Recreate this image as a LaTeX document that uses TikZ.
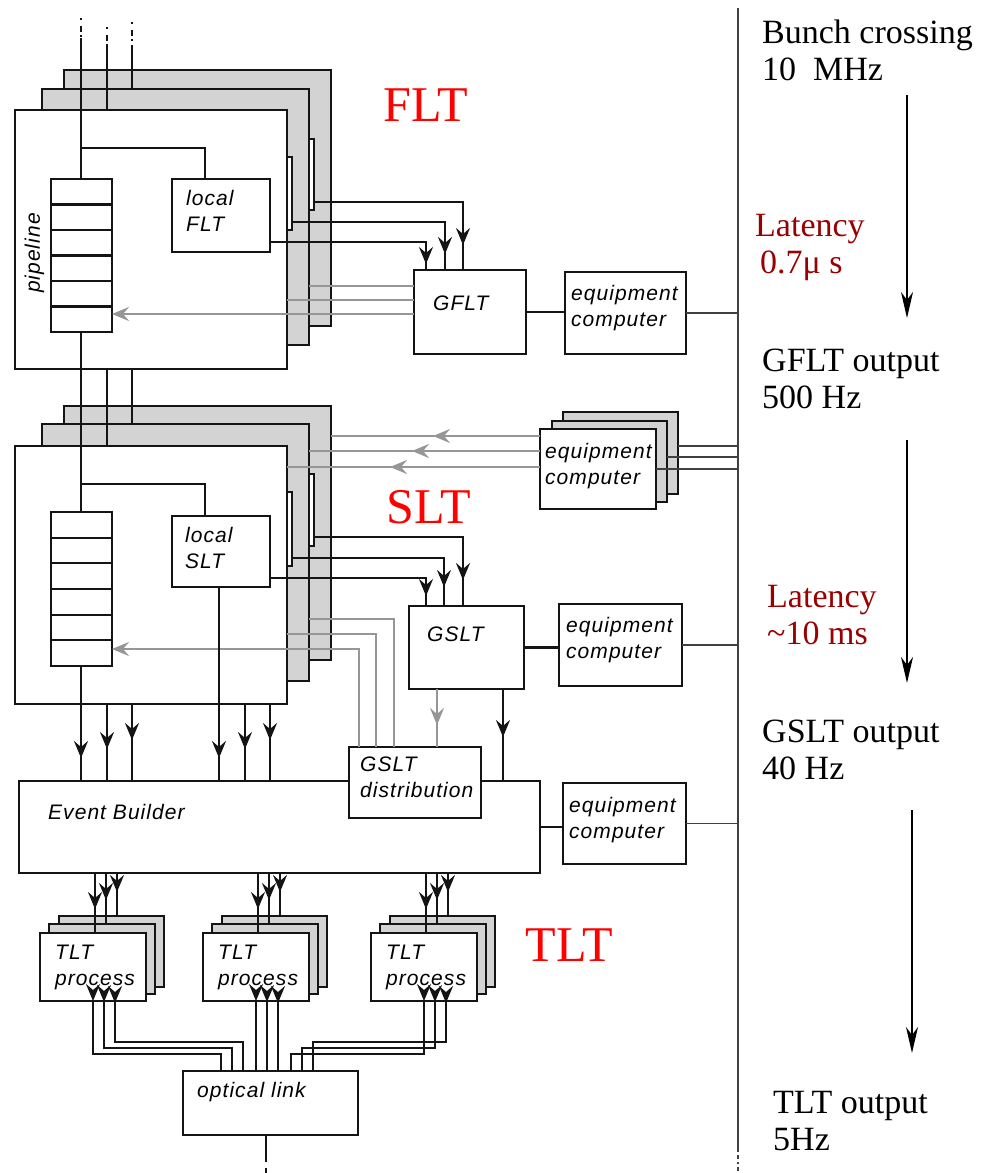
\documentclass[tikz,border=0pt]{standalone}
\usepackage{fontspec}
\setmainfont{Liberation Serif}
\newfontfamily\boxfont{Liberation Sans}[LetterSpace=5]
\usepackage{xcolor}
\usepackage{tikz}
\usetikzlibrary{positioning,calc,arrows.meta,decorations.markings}

\definecolor{shade}{RGB}{211,211,211}
\definecolor{sigcol}{RGB}{150,150,150}
\definecolor{latred}{RGB}{153,0,0}
\definecolor{edge}{RGB}{20,20,20}

\tikzset{dart/.tip={Stealth[length=17pt,width=14pt,inset=6pt]}}

\begin{document}
\begin{tikzpicture}[
    x=1pt, y=-1pt,
    module/.style={draw=edge, line width=2.2pt, fill=white, anchor=north west, inner sep=0pt, outer sep=0pt},
    back/.style={module, fill=shade},
    wire/.style={color=edge, line width=2.2pt},
    stub/.style={wire, dash pattern=on 2pt off 6pt on 6pt off 3pt},
    sig/.style={color=sigcol, line width=2.1pt},
    tline/.style={color=black!75, line width=1.9pt},
    flow/.style={draw=black, line width=1.6pt, -{Stealth[length=26pt,width=12pt,inset=8pt]}},
    tipat/.style={postaction={decorate}, decoration={markings, mark=at position #1 with {\arrow{dart}}}},
    lbl/.style={anchor=north west, inner sep=0pt, align=left, font=\boxfont\itshape\fontsize{21}{26}\selectfont},
    rate/.style={anchor=north west, inner sep=0pt, align=left, font=\fontsize{34}{37}\selectfont},
    level/.style={text=red, inner sep=0pt, font=\fontsize{50}{50}\selectfont}
]
\fill[white] (0,0) rectangle (987,1173);
\useasboundingbox (0,0) rectangle (987,1173);

% Nodes: FLT modules
\node[back, minimum width=267pt, minimum height=256pt] (fltC) at (64,70) {};
\node[back, minimum width=267pt, minimum height=256pt] (fltB) at (42,89) {};
\node[module, minimum width=272pt, minimum height=259pt] (fltA) at (15,110) {};
\node[module, minimum width=5pt, minimum height=71pt] (fltCt) at (309,139) {};
\node[module, minimum width=5pt, minimum height=73pt] (fltBt) at (287,157) {};
\node[module, minimum width=61pt, minimum height=153pt] (fltP) at (51,179) {};
\node[module, minimum width=98pt, minimum height=73pt] (lfl) at (172,179) {};
\node[module, minimum width=112pt, minimum height=84pt] (gflt) at (414,270) {};
\node[module, minimum width=121pt, minimum height=82pt] (eqA) at (565,272) {};

% Nodes: SLT modules
\node[back, minimum width=267pt, minimum height=254pt] (sltC) at (64,406) {};
\node[back, minimum width=267pt, minimum height=257pt] (sltB) at (42,424) {};
\node[module, minimum width=272pt, minimum height=258pt] (sltA) at (15,446) {};
\node[module, minimum width=5pt, minimum height=72pt] (sltCt) at (309,474) {};
\node[module, minimum width=5pt, minimum height=74pt] (sltBt) at (287,492) {};
\node[module, minimum width=61pt, minimum height=154pt] (sltP) at (51,512) {};
\node[module, minimum width=98pt, minimum height=71pt] (lsl) at (172,516) {};
\node[module, minimum width=115pt, minimum height=83pt] (gslt) at (409,606) {};
\node[module, minimum width=123pt, minimum height=82pt] (eqB) at (559,604) {};
\node[back, minimum width=115pt, minimum height=82pt] (eqCc) at (563,412) {};
\node[back, minimum width=115pt, minimum height=81pt] (eqCb) at (552,421) {};
\node[module, minimum width=116pt, minimum height=80pt] (eqCa) at (540,429) {};

% Nodes: event builder and TLT
\node[module, minimum width=521pt, minimum height=92pt] (eb) at (19,781) {};
\node[module, minimum width=132pt, minimum height=71pt] (gsd) at (349,747) {};
\node[module, minimum width=123pt, minimum height=81pt] (eqD) at (563,783) {};
\foreach \g/\x in {1/40, 2/203, 3/371} {
    \node[back, minimum width=105pt, minimum height=71pt] (tltC\g) at (\x+19,916) {};
    \node[back, minimum width=106pt, minimum height=70pt] (tltB\g) at (\x+9,924) {};
    \node[module, minimum width=106pt, minimum height=68pt] (tltA\g) at (\x,933) {};
    \node[lbl] (tltT\g) at ([shift={(15,12)}]tltA\g.north west) {TLT\\process};
}
\node[module, minimum width=175pt, minimum height=64pt] (ol) at (183,1071) {};

% pipeline cells
\foreach \k in {1,...,5} {
    \draw[wire] ($(fltP.north west)!\k/6!(fltP.south west)$) -- ($(fltP.north east)!\k/6!(fltP.south east)$);
    \draw[wire] ($(sltP.north west)!\k/6!(sltP.south west)$) -- ($(sltP.north east)!\k/6!(sltP.south east)$);
}

% Coordinates
\coordinate (inA0) at (81,18); \coordinate (inA) at (81,38);
\coordinate (inB0) at (107,27); \coordinate (inB) at (107,45);
\coordinate (inC0) at (132,22); \coordinate (inC) at (132,45);
\coordinate (cE) at (245,0); \coordinate (cF) at (270,0);
\coordinate (ttop) at (738,8); \coordinate (tbot) at (738,1150); \coordinate (tend) at (738,1173);

% Paths: FLT
\draw[stub] (inA0) -- (inA); \draw[stub] (inB0) -- (inB); \draw[stub] (inC0) -- (inC);
\draw[wire] (inA) -- (fltP.north -| inA);
\draw[wire] (inB) -- (fltA.north -| inB);
\draw[wire] (inC) -- (fltB.north -| inC);
\draw[wire] ([xshift=-16pt]lfl.north) -- ++(0,-31) -| (fltP.north -| inA);
\draw[wire, tipat=-6pt] ([yshift=10pt]lfl.south east) -| ([xshift=-44pt]gflt.north);
\draw[wire, tipat=-16pt] ([yshift=8pt]fltBt.south east) -| ([xshift=-25pt]gflt.north);
\draw[wire, tipat=-25pt] ([yshift=8pt]fltCt.south east) -| ([xshift=-7pt]gflt.north);
\coordinate (gA) at ([yshift=-2pt]gflt.west);
\coordinate (gB) at ([yshift=12pt]gflt.west);
\coordinate (gC) at ([yshift=26pt]gflt.west);
\draw[sig, -dart] (gA) -- (gA -| fltP.east);
\draw[sig] (gB) -- (gB -| fltA.east);
\draw[sig] (gC) -- (gC -| fltB.east);
\draw[wire] (gflt.east) -- (gflt.east -| eqA.west);
\draw[tline] (eqA.east) -- (eqA.east -| ttop);

% Paths: FLT to SLT
\draw[wire] (fltP.south -| inA) -- (sltP.north -| inA);
\draw[wire] (fltA.south -| inB) -- (sltA.north -| inB);
\draw[wire] (fltA.south -| inC) -- (sltB.north -| inC);

% Paths: SLT
\draw[wire] ([xshift=-16pt]lsl.north) -- ++(0,-32) -| (sltP.north -| inA);
\draw[wire, tipat=-10pt] ([yshift=9pt]lsl.south east) -| ([xshift=-40.5pt]gslt.north);
\draw[wire, tipat=-19pt] ([yshift=8pt]sltBt.south east) -| ([xshift=-22.5pt]gslt.north);
\draw[wire, tipat=-26pt] ([yshift=9pt]sltCt.south east) -| ([xshift=-3.5pt]gslt.north);
\coordinate (eA) at ([yshift=33pt]eqCa.west);
\coordinate (eB) at ([yshift=18pt]eqCa.west);
\coordinate (eC) at ([yshift=2pt]eqCa.west);
\draw[sig, tipat=107pt] (eA) -- (eA -| sltC.east);
\draw[sig, tipat=128pt] (eB) -- (eB -| sltB.east);
\draw[sig, tipat=150pt] (eC) -- (eC -| sltA.east);
\coordinate (tA) at ([yshift=7pt]eqCc.east);
\coordinate (tB) at ([yshift=4.5pt]eqCb.east);
\draw[tline] (tA) -- (tA -| ttop);
\draw[tline] (tB) -- (tB -| ttop);
\draw[tline] (eqCa.east) -- (eqCa.east -| ttop);
\draw[wire] (gslt.east) -- (gslt.east -| eqB.west);
\draw[tline] (eqB.east) -- (eqB.east -| ttop);
\draw[sig, -dart] ([xshift=-56pt]gsd.north) |- ([yshift=-60pt]sltP.east);
\draw[sig] ([xshift=-39pt]gsd.north) |- ([yshift=-59pt]sltA.east);
\draw[sig] ([xshift=-21pt]gsd.north) |- ([yshift=-66.5pt]sltB.east);
\coordinate (dA) at ([xshift=-29.5pt]gslt.south);
\coordinate (dB) at ([xshift=36.5pt]gslt.south);
\draw[sig, tipat=-22pt] (dA) -- (dA |- gsd.north);
\draw[wire, tipat=-44pt] (dB) -- (dB |- eb.north);

% Paths: SLT to event builder
\coordinate (oD) at ([xshift=-2pt]lsl.south);
\draw[wire, tipat=-23pt] (sltP.south -| inA) -- (eb.north -| inA);
\draw[wire, tipat=-32pt] (sltA.south -| inB) -- (eb.north -| inB);
\draw[wire, tipat=-41pt] (sltA.south -| inC) -- (eb.north -| inC);
\draw[wire, tipat=-23pt] (oD) -- (oD |- eb.north);
\draw[wire, tipat=-32pt] (sltA.south -| cE) -- (eb.north -| cE);
\draw[wire, tipat=-41pt] (sltA.south -| cF) -- (eb.north -| cF);
\draw[wire] (eb.east) -- (eb.east -| eqD.west);
\draw[tline] (eqD.east) -- (eqD.east -| ttop);

% Paths: TLT
\foreach \g in {1,2,3}
    \foreach \k/\b in {0/A,1/B,2/C} {
        \coordinate (up) at ($(tltA\g.north west)+(55+11*\k,0)$);
        \draw[wire, tipat=-24pt] (up |- eb.south) -- (up |- tlt\b\g.north);
    }
\foreach \g/\t in {1/221, 2/256, 3/291}
    \foreach \k [evaluate=\k as \p using 34-7.5*\k] in {0,1,2} {
        \coordinate (dn) at ($(tltA\g.south west)+(53+11*\k,0)$);
        \draw[wire, tipat={\p pt}] (dn) -- ++(0,53-6*\k) -| ($(ol.north west)+(\t-183+11*\k,0)$);
    }
\coordinate (olo) at ([xshift=-4.5pt]ol.south);
\coordinate (olend) at (266,1160); \coordinate (oldot) at (266,1173);
\draw[wire] (olo) -- (olend);
\draw[stub] (olend) -- (oldot);

% timeline
\draw[tline] (ttop) -- (tbot);
\draw[tline, dash pattern=on 2pt off 3pt on 4pt off 3pt] (tbot) -- (tend);
\coordinate (fA1) at (907,95);  \coordinate (fA2) at (907,318);
\coordinate (fB1) at (907,440); \coordinate (fB2) at (907,683);
\coordinate (fC1) at (912,810); \coordinate (fC2) at (912,1053);
\draw[flow] (fA1) -- (fA2);
\draw[flow] (fB1) -- (fB2);
\draw[flow] (fC1) -- (fC2);

% Labels
\node[lbl, rotate=90, anchor=center] (pipe) at (34.5,253) {pipeline};
\node[lbl] (lflT) at ([shift={(14,11)}]lfl.north west) {local\\FLT};
\node[lbl] (gfltT) at ([shift={(19,26)}]gflt.north west) {GFLT};
\node[lbl] (eqAT) at ([shift={(6,13)}]eqA.north west) {equipment\\computer};
\node[lbl] (lslT) at ([shift={(13,11)}]lsl.north west) {local\\SLT};
\node[lbl] (gsltT) at ([shift={(18,21)}]gslt.north west) {GSLT};
\node[lbl] (eqBT) at ([shift={(7,13)}]eqB.north west) {equipment\\computer};
\node[lbl] (eqCT) at ([shift={(5,14)}]eqCa.north west) {equipment\\computer};
\node[lbl] (gsdT) at ([shift={(11,10)}]gsd.north west) {GSLT\\distribution};
\node[lbl] (ebT) at ([shift={(29,23)}]eb.north west) {Event Builder};
\node[lbl] (eqDT) at ([shift={(6,14)}]eqD.north west) {equipment\\computer};
\node[lbl] (olT) at ([shift={(14,11)}]ol.north west) {optical link};

\node[level] (fltL) at (426,105) {FLT};
\node[level] (sltL) at (429,507) {SLT};
\node[level] (tltL) at (569,945) {TLT};

\node[rate] (bunch) at (762,20) {Bunch crossing\\10\ \ MHz};
\node[rate, text=latred] (lat1) at (755,214) {Latency\\\hspace*{5pt}0.7μ s};
\node[rate] (gflto) at (762,349) {GFLT output\\500 Hz};
\node[rate, text=latred] (lat2) at (767,585) {Latency\\\textasciitilde10 ms};
\node[rate] (gslto) at (762,720) {GSLT output\\40 Hz};
\node[rate] (tlto) at (773,1091) {TLT output\\5Hz};

\end{tikzpicture}
\end{document}
